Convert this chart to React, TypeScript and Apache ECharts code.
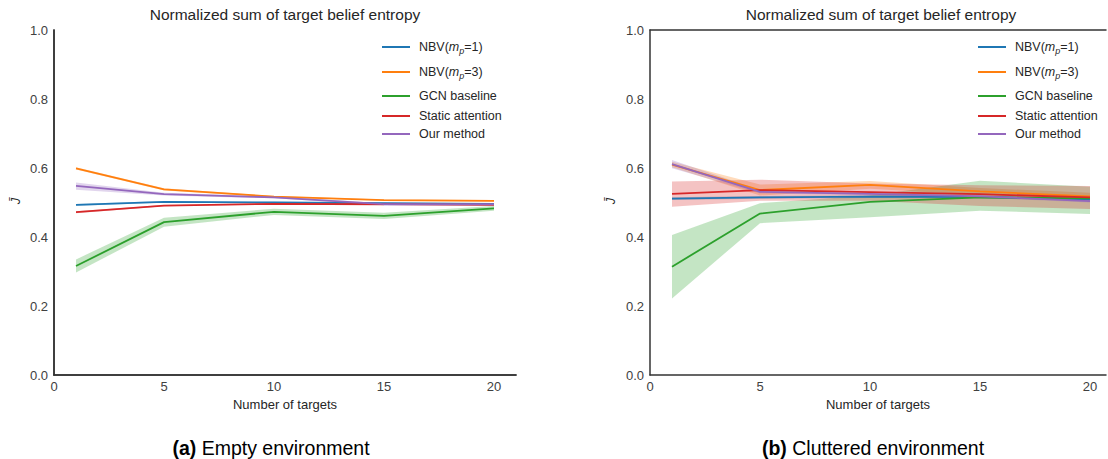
import React, { useEffect, useRef } from "react";
import * as echarts from "echarts";

// ---------- data ----------
const X_TARGETS = [1, 5, 10, 15, 20];
const X_TICKS = [0, 5, 10, 15, 20];
const Y_TICKS = [0, 0.2, 0.4, 0.6, 0.8, 1.0];

const METHODS = ["NBV(mp=1)", "NBV(mp=3)", "GCN baseline", "Static attention", "Our method"];
const COLORS = ["#1f77b4", "#ff7f0e", "#2ca02c", "#d62728", "#9467bd"];

// (a) Empty environment
const emptyNbv1 = [0.493, 0.502, 0.5, 0.498, 0.496];
const emptyNbv1Lo = [0.49, 0.5, 0.498, 0.496, 0.494];
const emptyNbv1Hi = [0.496, 0.504, 0.502, 0.5, 0.498];
const emptyNbv3 = [0.599, 0.538, 0.517, 0.507, 0.505];
const emptyNbv3Lo = [0.596, 0.535, 0.515, 0.505, 0.503];
const emptyNbv3Hi = [0.602, 0.541, 0.519, 0.509, 0.507];
const emptyGcn = [0.316, 0.443, 0.473, 0.461, 0.483];
const emptyGcnLo = [0.297, 0.43, 0.464, 0.452, 0.476];
const emptyGcnHi = [0.335, 0.456, 0.482, 0.47, 0.49];
const emptyStatic = [0.472, 0.491, 0.496, 0.495, 0.493];
const emptyStaticLo = [0.469, 0.489, 0.494, 0.493, 0.491];
const emptyStaticHi = [0.475, 0.493, 0.498, 0.497, 0.495];
const emptyOurs = [0.548, 0.524, 0.515, 0.495, 0.495];
const emptyOursLo = [0.537, 0.52, 0.512, 0.492, 0.492];
const emptyOursHi = [0.558, 0.528, 0.518, 0.498, 0.498];

// (b) Cluttered environment
const clutNbv1 = [0.511, 0.515, 0.517, 0.516, 0.509];
const clutNbv1Lo = [0.507, 0.511, 0.513, 0.512, 0.505];
const clutNbv1Hi = [0.515, 0.519, 0.521, 0.52, 0.513];
const clutNbv3 = [0.61, 0.536, 0.551, 0.532, 0.518];
const clutNbv3Lo = [0.602, 0.52, 0.54, 0.522, 0.508];
const clutNbv3Hi = [0.618, 0.552, 0.562, 0.542, 0.528];
const clutGcn = [0.314, 0.468, 0.502, 0.515, 0.512];
const clutGcnLo = [0.222, 0.44, 0.457, 0.476, 0.467];
const clutGcnHi = [0.406, 0.498, 0.52, 0.563, 0.546];
const clutStatic = [0.525, 0.536, 0.53, 0.524, 0.515];
const clutStaticLo = [0.488, 0.505, 0.505, 0.49, 0.481];
const clutStaticHi = [0.561, 0.566, 0.555, 0.55, 0.548];
const clutOurs = [0.611, 0.531, 0.525, 0.518, 0.504];
const clutOursLo = [0.599, 0.526, 0.521, 0.514, 0.5];
const clutOursHi = [0.623, 0.536, 0.529, 0.522, 0.508];

const PANEL_TITLE = "Normalized sum of target belief entropy";
const X_NAME = "Number of targets";
const Y_NAME = "J\u0304";
const CAPTIONS = [
  { tag: "(a)", text: "Empty environment" },
  { tag: "(b)", text: "Cluttered environment" },
];

const EMPTY = [
  [emptyNbv1, emptyNbv1Lo, emptyNbv1Hi],
  [emptyNbv3, emptyNbv3Lo, emptyNbv3Hi],
  [emptyGcn, emptyGcnLo, emptyGcnHi],
  [emptyStatic, emptyStaticLo, emptyStaticHi],
  [emptyOurs, emptyOursLo, emptyOursHi],
];
const CLUTTERED = [
  [clutNbv1, clutNbv1Lo, clutNbv1Hi],
  [clutNbv3, clutNbv3Lo, clutNbv3Hi],
  [clutGcn, clutGcnLo, clutGcnHi],
  [clutStatic, clutStaticLo, clutStaticHi],
  [clutOurs, clutOursLo, clutOursHi],
];

// ---------- layout ----------
const FONT = "Liberation Sans, Arial, sans-serif";
const TEXT = "#262626";
const FRAME = "#333333";
// right panel is cut by the page edge: its x range is shortened so the scale stays 22px/unit
const GRIDS = [
  { left: 54, top: 30, width: 462, height: 345, xMax: 21, rightFrame: true },
  { left: 650, top: 30, width: 456, height: 345, xMax: 456 / 22, rightFrame: false },
];
const LEGEND_ROWS = [47, 72, 96, 116, 134];
const LEGEND_X = [382, 978];
const YNAME_X = [15, 610];
const CAPTION_X = [271, 873];

function bandSeries(gi: number, mi: number, lo: number[], hi: number[]) {
  const rows = X_TARGETS.map((x, i) => [x, lo[i], hi[i]]);
  return {
    type: "custom",
    name: `band-${gi}-${mi}`,
    xAxisIndex: gi,
    yAxisIndex: gi,
    silent: true,
    z: 1,
    encode: { x: 0, y: [1, 2] },
    data: rows,
    renderItem: (params: any, api: any) => {
      if (params.dataIndex !== 0) return null;
      const top = rows.map((r) => api.coord([r[0], r[2]]));
      const bottom = rows.map((r) => api.coord([r[0], r[1]])).reverse();
      return {
        type: "polygon",
        shape: { points: top.concat(bottom) },
        style: { fill: COLORS[mi], opacity: 0.28 },
      };
    },
  };
}

function buildOption() {
  const series: any[] = [];
  const panels = [EMPTY, CLUTTERED];
  panels.forEach((panel, gi) => {
    panel.forEach(([_, lo, hi], mi) => {
      series.push(bandSeries(gi, mi, lo, hi));
    });
    panel.forEach(([mean], mi) => {
      series.push({
        type: "line",
        name: METHODS[mi],
        xAxisIndex: gi,
        yAxisIndex: gi,
        symbol: "none",
        color: COLORS[mi],
        lineStyle: { color: COLORS[mi], width: 1.8 },
        data: X_TARGETS.map((x, i) => [x, mean[i]]),
        z: 3 + mi,
      });
    });
  });

  const legends: any[] = [];
  LEGEND_X.forEach((lx) => {
    METHODS.forEach((m, mi) => {
      const isNbv = m.startsWith("NBV");
      legends.push({
        left: lx,
        top: LEGEND_ROWS[mi] - 8,
        padding: 0,
        orient: "vertical",
        data: [{ name: m, icon: "rect" }],
        itemWidth: 28,
        itemHeight: 2,
        selectedMode: false,
        formatter: isNbv
          ? (name: string) => `NBV({i|m}{s|p}=${name.slice(7, 8)})`
          : undefined,
        textStyle: {
          fontFamily: FONT,
          fontSize: 12.5,
          color: TEXT,
          lineHeight: 16,
          padding: [0, 0, 0, 4],
          rich: {
            i: { fontFamily: FONT, fontSize: 12.5, fontStyle: "italic", color: TEXT, lineHeight: 16 },
            s: {
              fontFamily: FONT,
              fontSize: 9,
              fontStyle: "italic",
              color: TEXT,
              lineHeight: 9,
              verticalAlign: "bottom",
            },
          },
        },
      });
    });
  });

  const frameLine = { show: true, lineStyle: { color: FRAME, width: 1.5 } };
  const xAxes: any[] = [];
  GRIDS.forEach((g, gi) => {
    xAxes.push({
      type: "value",
      gridIndex: gi,
      position: "bottom",
      min: 0,
      max: g.xMax,
      interval: 5,
      name: X_NAME,
      nameLocation: "middle",
      nameGap: 22,
      nameTextStyle: { fontFamily: FONT, fontSize: 13, color: TEXT },
      axisLine: frameLine,
      axisTick: { show: false },
      splitLine: { show: false },
      axisLabel: {
        showMaxLabel: false,
        margin: 5,
        fontFamily: FONT,
        fontSize: 13,
        color: "#404040",
        formatter: (v: number) => (X_TICKS.includes(v) ? String(v) : ""),
      },
    });
  });
  GRIDS.forEach((g, gi) => {
    xAxes.push({
      type: "value",
      gridIndex: gi,
      position: "top",
      min: 0,
      max: g.xMax,
      interval: 5,
      axisLine: frameLine,
      axisTick: { show: false },
      axisLabel: { show: false },
      splitLine: { show: false },
    });
  });

  const yAxes: any[] = [];
  GRIDS.forEach((_, gi) => {
    yAxes.push({
      type: "value",
      gridIndex: gi,
      position: "left",
      min: 0,
      max: 1,
      interval: 0.2,
      axisLine: frameLine,
      axisTick: { show: false },
      splitLine: { show: false },
      axisLabel: {
        margin: 6,
        fontFamily: FONT,
        fontSize: 13,
        color: "#404040",
        formatter: (v: number) =>
          Y_TICKS.some((t) => Math.abs(t - v) < 1e-9) ? v.toFixed(1) : "",
      },
    });
  });
  GRIDS.forEach((g, gi) => {
    if (!g.rightFrame) return;
    yAxes.push({
      type: "value",
      gridIndex: gi,
      position: "right",
      min: 0,
      max: 1,
      interval: 0.2,
      axisLine: frameLine,
      axisTick: { show: false },
      axisLabel: { show: false },
      splitLine: { show: false },
    });
  });

  const graphics: any[] = [];
  CAPTIONS.forEach((c, i) => {
    graphics.push({
      type: "text",
      x: CAPTION_X[i],
      y: 448,
      style: {
        text: `{b|${c.tag}} ${c.text}`,
        align: "center",
        verticalAlign: "middle",
        fontFamily: FONT,
        fontSize: 19.5,
        fill: "#000000",
        rich: {
          b: { fontFamily: FONT, fontSize: 19.5, fontWeight: "bold", fill: "#000000" },
        },
      },
    });
  });
  YNAME_X.forEach((x) => {
    graphics.push({
      type: "text",
      x,
      y: 201,
      rotation: Math.PI / 2,
      style: {
        text: Y_NAME,
        align: "center",
        verticalAlign: "middle",
        fontFamily: FONT,
        fontSize: 13,
        fontStyle: "italic",
        fill: TEXT,
      },
    });
  });

  return {
    animation: false,
    backgroundColor: "#ffffff",
    textStyle: { fontFamily: FONT },
    title: GRIDS.map((g) => ({
      text: PANEL_TITLE,
      left: g.left + 231,
      textAlign: "center",
      top: 6,
      padding: 0,
      textStyle: { fontFamily: FONT, fontSize: 15.5, fontWeight: "normal", color: TEXT },
    })),
    grid: GRIDS.map((g) => ({
      left: g.left,
      top: g.top,
      width: g.width,
      height: g.height,
      show: false,
    })),
    legend: legends,
    xAxis: xAxes,
    yAxis: yAxes,
    graphic: graphics,
    series,
  };
}

export default function App() {
  const ref = useRef<HTMLDivElement>(null);
  useEffect(() => {
    document.body.style.margin = "0";
    const chart = echarts.init(ref.current!, undefined, { renderer: "svg" });
    chart.setOption(buildOption() as any);
    return () => chart.dispose();
  }, []);
  return (
    <div
      ref={ref}
      style={{ position: "absolute", left: 0, top: 0, width: 1108, height: 459, background: "#fff" }}
    />
  );
}
